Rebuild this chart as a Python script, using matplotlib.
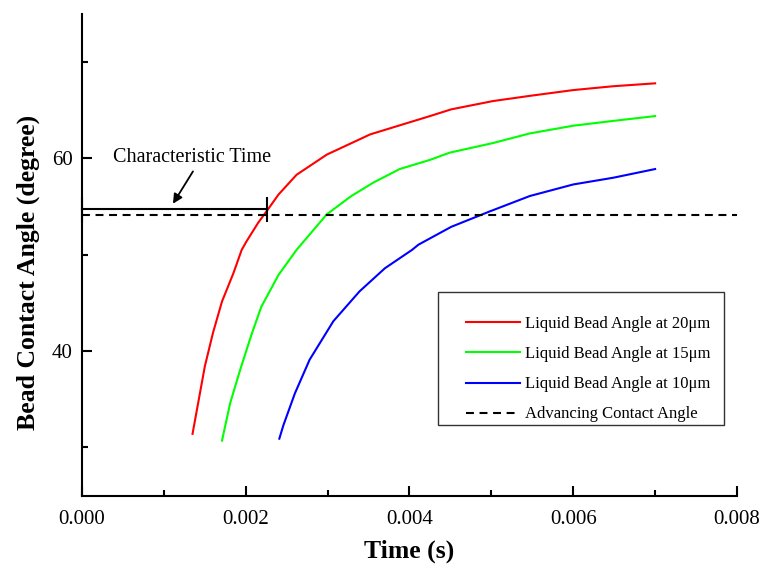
import matplotlib
matplotlib.use("Agg")
import matplotlib.pyplot as plt
from matplotlib.patches import Rectangle

plt.rcParams["font.family"] = ["Liberation Serif", "DejaVu Serif"]
plt.rcParams["mathtext.fontset"] = "stix"

# Liquid bead angle vs time for three bead sizes
t_20 = [0.00135, 0.00150, 0.00160, 0.00171, 0.00185, 0.00195, 0.00201, 0.00215,
        0.00227, 0.00240, 0.00262, 0.00299, 0.00352, 0.00425, 0.00451, 0.00502,
        0.00547, 0.00600, 0.00649, 0.00700]
a_20 = [31.4, 38.4, 41.9, 45.15, 48.1, 50.5, 51.4, 53.3, 54.7, 56.25, 58.3, 60.4,
        62.5, 64.4, 65.1, 65.96, 66.5, 67.1, 67.5, 67.8]

t_15 = [0.00171, 0.00181, 0.00193, 0.00207, 0.00219, 0.00240, 0.00262, 0.00299,
        0.00329, 0.00356, 0.00388, 0.00425, 0.00449, 0.00502, 0.00547, 0.00600,
        0.00649, 0.00700]
a_15 = [30.7, 34.6, 38.0, 41.7, 44.6, 47.9, 50.5, 54.2, 56.1, 57.5, 58.9, 59.85,
        60.6, 61.6, 62.6, 63.4, 63.9, 64.4]

t_10 = [0.00241, 0.00246, 0.00260, 0.00278, 0.00307, 0.00339, 0.00370, 0.00403,
        0.00411, 0.00451, 0.00498, 0.00547, 0.00600, 0.00649, 0.00700]
a_10 = [30.9, 32.3, 35.6, 39.1, 43.1, 46.2, 48.6, 50.5, 51.05, 52.9, 54.5, 56.1,
        57.3, 58.0, 58.9]

advancing_angle = 54.14
char_time = 0.002265
char_level = 54.77

labels = ["Liquid Bead Angle at 20\u03bcm", "Liquid Bead Angle at 15\u03bcm",
          "Liquid Bead Angle at 10\u03bcm", "Advancing Contact Angle"]
x_ticks = [0.000, 0.002, 0.004, 0.006, 0.008]
y_ticks = [40, 60]

W, H = 762, 570
fig = plt.figure(figsize=(W / 100, H / 100), dpi=100)
ax = fig.add_axes([82 / W, 1 - 495.5 / H, 655 / W, 481.5 / H])

lw = 1.5
l1, = ax.plot(t_20, a_20, color="#ff0000", lw=lw)
l2, = ax.plot(t_15, a_15, color="#00ff00", lw=lw)
l3, = ax.plot(t_10, a_10, color="#0000ff", lw=lw)
l4, = ax.plot([0, 0.008], [advancing_angle, advancing_angle], color="black",
              lw=lw, dashes=(3.8, 2.7))

# characteristic time bracket
ax.plot([0, char_time], [char_level, char_level], color="black", lw=lw,
        marker="|", ms=18, mew=1.5, clip_on=False)
ax.annotate("", xy=(0.001111, 55.3), xytext=(0.001355, 58.65),
            arrowprops=dict(arrowstyle="-|>", color="black", lw=1.3,
                            mutation_scale=14, shrinkA=0, shrinkB=0))
ax.text(0.001349, 60.1, "Characteristic Time", fontsize=14.5, ha="center",
        va="center")

ax.set_xlim(0, 0.008)
ax.set_ylim(25, 75)
ax.set_xticks(x_ticks)
ax.set_xticklabels([f"{v:.3f}" for v in x_ticks])
ax.set_yticks(y_ticks)
ax.set_xticks([0.001, 0.003, 0.005, 0.007], minor=True)
ax.set_yticks([30, 50, 70], minor=True)

for s in ["top", "right"]:
    ax.spines[s].set_visible(False)
for s in ["left", "bottom"]:
    ax.spines[s].set_linewidth(1.5)

ax.tick_params(which="major", direction="in", length=7.2, width=1.5,
               labelsize=15)
ax.tick_params(axis="x", which="major", pad=10.5)
ax.tick_params(axis="y", which="major", pad=6.5)
ax.tick_params(which="minor", direction="in", length=4, width=1.5)

ax.set_xlabel("Time (s)", fontsize=18.5, fontweight="bold")
ax.set_ylabel("Bead Contact Angle (degree)", fontsize=18.5, fontweight="bold")
ax.xaxis.set_label_coords(0.5, -0.092)
ax.yaxis.set_label_coords(-0.064, 0.464)

leg = ax.legend([l1, l2, l3, l4], labels, frameon=False, fontsize=12,
                handlelength=3.25, handletextpad=0.3, labelspacing=0.85,
                loc="upper left", bbox_to_anchor=(466 / W, 1 - 316 / H),
                bbox_transform=fig.transFigure, borderpad=0, borderaxespad=0)
fig.patches.append(Rectangle((438 / W, 1 - 425 / H), 286 / W, 133 / H,
                             transform=fig.transFigure, fill=False,
                             edgecolor="#333333", lw=1.0))

fig.savefig("out.png", dpi=100)
